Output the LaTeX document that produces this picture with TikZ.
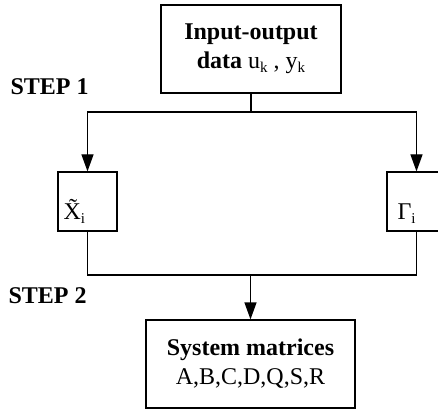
\documentclass[tikz,border=0pt]{standalone}
\usepackage{fontspec}
\setmainfont{Liberation Serif}
\usetikzlibrary{arrows.meta}
\newcommand{\lowidx}[1]{\raisebox{-0.3ex}{\fontsize{15}{15}\selectfont #1}}
\begin{document}
\begin{tikzpicture}[x=1pt, y=-1pt, line width=1.2pt, line join=miter,
	>={Triangle[length=17pt,width=12pt]},
	font=\fontsize{24}{29}\selectfont,
	box/.style={draw, rectangle, align=center, inner sep=0pt},
	steplabel/.style={anchor=west, font=\fontsize{24}{29}\selectfont\bfseries}]
	\useasboundingbox (0,0) rectangle (438,411);
	\node[box, minimum width=180pt, minimum height=88pt] (io) at (251,49)
		{\textbf{Input-output}\\\textbf{data} u\lowidx{k} , y\lowidx{k}};
	\node[box, minimum width=59pt, minimum height=59pt] (xtil) at (87.5,201.5) {};
	\node[box, minimum width=59pt, minimum height=59pt] (gam) at (416.5,201.5) {};
	\node[box, minimum width=209pt, minimum height=88pt] (sys) at (250.5,364)
		{\textbf{System matrices}\\A,B,C,D,Q,S,R};
	\node[anchor=base west, inner sep=0pt] at (63,220) {\~{X}\lowidx{i}};
	\node[anchor=base west, inner sep=0pt] at (397,220) {Γ\lowidx{i}};
	\path
	(io.south |- {(0,112)}) coordinate (S1)
	(sys.north |- {(0,275)}) coordinate (S2)
	;
	\node[steplabel, inner sep=0pt] at (10,87) {STEP 1};
	\node[steplabel, inner sep=0pt] at (8,296) {STEP 2};
	\draw (io.south) -- (S1);
	\foreach \b in {xtil,gam}{
		\draw[->] (S1) -| (\b.north);
	}
	\draw (xtil.south) |- (S2) -| (gam.south);
	\draw[->] (S2) -- (sys.north);
\end{tikzpicture}
\end{document}
